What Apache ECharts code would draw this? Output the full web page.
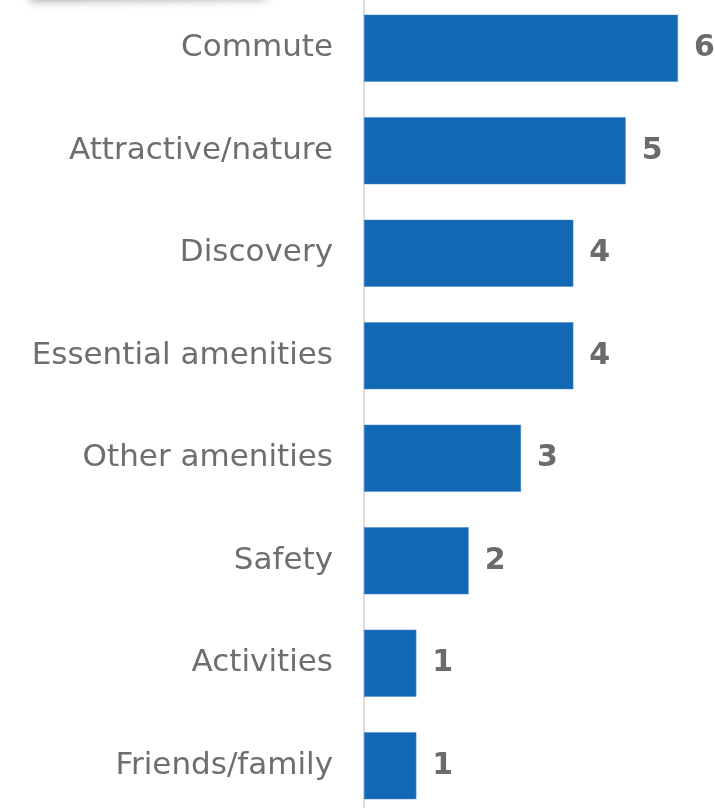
<!DOCTYPE html>
<html>
<head>
<meta charset="utf-8">
<script src="https://cdn.jsdelivr.net/npm/echarts@6/dist/echarts.min.js"></script>
<style>
  html, body { margin: 0; padding: 0; background: #ffffff; overflow: hidden; }
  /* the plot runs a little past the window's top and bottom edges */
  #chart { position: absolute; left: 0; top: -3px; width: 715px; height: 820px; }
</style>
</head>
<body>
<div id="chart"></div>
<script>
// Reasons given, most frequent first
const categories = [
  'Commute',
  'Attractive/nature',
  'Discovery',
  'Essential amenities',
  'Other amenities',
  'Safety',
  'Activities',
  'Friends/family'
];
const counts = [6, 5, 4, 4, 3, 2, 1, 1];

const chart = echarts.init(document.getElementById('chart'), null, { renderer: 'canvas' });

chart.setOption({
  backgroundColor: '#ffffff',
  animation: false,
  grid: { left: 364, right: 37, top: 0, bottom: 0, containLabel: false },
  xAxis: {
    type: 'value',
    min: 0,
    max: 6,
    show: false
  },
  yAxis: {
    type: 'category',
    data: categories,
    inverse: true,
    axisLine: { show: true, lineStyle: { color: '#dcdcdc', width: 2 } },
    axisTick: { show: false },
    splitLine: { show: false },
    axisLabel: {
      margin: 31,
      color: '#6d6e71',
      fontFamily: 'DejaVu Sans, Verdana, sans-serif',
      fontSize: 31,
      padding: [4, 0, 0, 0]
    }
  },
  series: [{
    type: 'bar',
    data: counts,
    barCategoryGap: '34.6%',
    itemStyle: { color: '#1368b3', borderColor: '#4a8bc8', borderWidth: 0.5 },
    label: {
      show: true,
      position: 'right',
      distance: 16,
      color: '#6b6b6e',
      fontFamily: 'DejaVu Sans, Verdana, sans-serif',
      fontWeight: 'bold',
      fontSize: 30,
      padding: [4, 0, 0, 0]
    }
  }],
  graphic: [{
    // soft drop shadow of a panel sitting just above the chart
    type: 'rect',
    left: 28,
    top: -41,
    shape: { width: 240, height: 40, r: 6 },
    rotation: 0.01,
    style: {
      fill: '#ffffff',
      shadowBlur: 10,
      shadowOffsetY: 3,
      shadowColor: 'rgba(0,0,0,0.35)'
    },
    z: 100
  }]
});
</script>
</body>
</html>
